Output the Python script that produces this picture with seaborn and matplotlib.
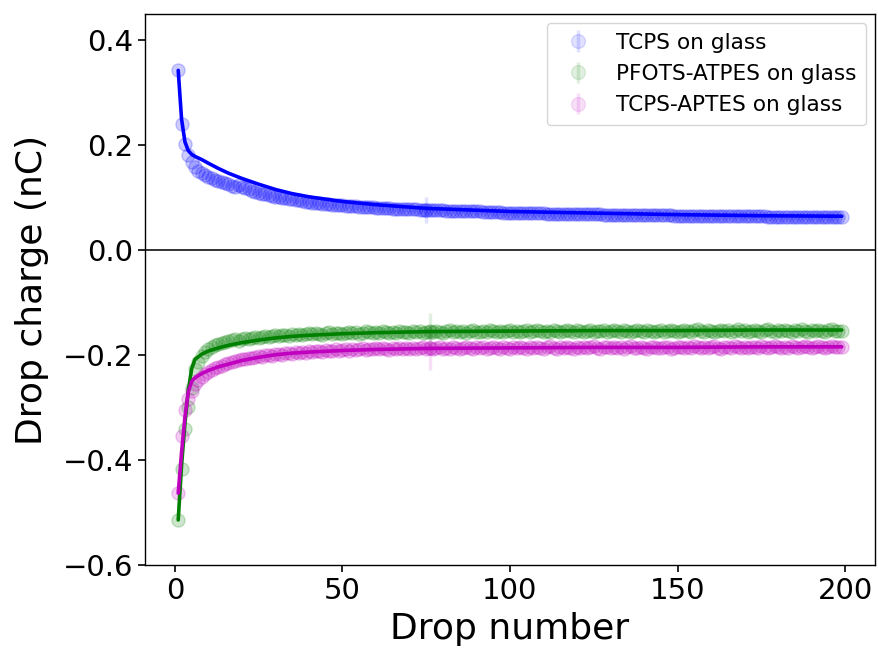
import numpy as np
import pandas as pd
import matplotlib
matplotlib.use("Agg")
import matplotlib.pyplot as plt
import seaborn as sns

drops = list(range(1, 200))

tcps = [
    0.343, 0.240, 0.202, 0.181, 0.168, 0.158, 0.152, 0.147, 0.143, 0.140,
    0.137, 0.134, 0.132, 0.130, 0.128, 0.126, 0.123, 0.121, 0.124, 0.121,
    0.118, 0.116, 0.114, 0.112, 0.110, 0.108, 0.107, 0.105, 0.104, 0.102,
    0.101, 0.100, 0.099, 0.098, 0.097, 0.096, 0.095, 0.094, 0.093, 0.092,
    0.091, 0.091, 0.090, 0.089, 0.089, 0.088, 0.087, 0.087, 0.086, 0.086,
    0.085, 0.085, 0.084, 0.084, 0.083, 0.083, 0.082, 0.082, 0.082, 0.081,
    0.081, 0.080, 0.080, 0.080, 0.079, 0.079, 0.079, 0.079, 0.078, 0.078,
    0.078, 0.078, 0.077, 0.077, 0.077, 0.077, 0.076, 0.076, 0.076, 0.076,
    0.075, 0.075, 0.075, 0.075, 0.075, 0.074, 0.074, 0.074, 0.074, 0.074,
    0.074, 0.073, 0.073, 0.073, 0.073, 0.073, 0.073, 0.072, 0.072, 0.072,
    0.072, 0.072, 0.072, 0.071, 0.071, 0.071, 0.071, 0.071, 0.071, 0.071,
    0.070, 0.070, 0.070, 0.070, 0.070, 0.070, 0.070, 0.070, 0.069, 0.069,
    0.069, 0.069, 0.069, 0.069, 0.069, 0.069, 0.069, 0.068, 0.068, 0.068,
    0.068, 0.068, 0.068, 0.068, 0.068, 0.068, 0.068, 0.067, 0.067, 0.067,
    0.067, 0.067, 0.067, 0.067, 0.067, 0.067, 0.067, 0.067, 0.066, 0.066,
    0.066, 0.066, 0.066, 0.066, 0.066, 0.066, 0.066, 0.066, 0.066, 0.066,
    0.066, 0.065, 0.065, 0.065, 0.065, 0.065, 0.065, 0.065, 0.065, 0.065,
    0.065, 0.065, 0.065, 0.065, 0.065, 0.065, 0.064, 0.064, 0.064, 0.064,
    0.064, 0.064, 0.064, 0.064, 0.064, 0.064, 0.064, 0.064, 0.064, 0.064,
    0.064, 0.063, 0.063, 0.064, 0.063, 0.063, 0.063, 0.063, 0.064,
]

pfots = [
    -0.514, -0.416, -0.340, -0.298, -0.262, -0.226, -0.212, -0.201, -0.194, -0.188,
    -0.184, -0.181, -0.178, -0.176, -0.174, -0.172, -0.171, -0.170, -0.172, -0.169,
    -0.168, -0.170, -0.167, -0.166, -0.168, -0.165, -0.164, -0.166, -0.163, -0.162,
    -0.164, -0.162, -0.161, -0.163, -0.160, -0.161, -0.159, -0.162, -0.160, -0.158,
    -0.160, -0.157, -0.159, -0.161, -0.158, -0.156, -0.159, -0.157, -0.158, -0.160,
    -0.157, -0.155, -0.158, -0.156, -0.159, -0.157, -0.154, -0.156, -0.158, -0.155,
    -0.157, -0.154, -0.156, -0.158, -0.155, -0.157, -0.153, -0.156, -0.155, -0.157,
    -0.154, -0.156, -0.153, -0.157, -0.155, -0.154, -0.156, -0.153, -0.155, -0.157,
    -0.154, -0.152, -0.156, -0.154, -0.155, -0.153, -0.157, -0.154, -0.152, -0.155,
    -0.156, -0.153, -0.155, -0.152, -0.154, -0.156, -0.153, -0.155, -0.154, -0.152,
    -0.155, -0.153, -0.156, -0.154, -0.152, -0.155, -0.153, -0.151, -0.154, -0.156,
    -0.153, -0.155, -0.152, -0.154, -0.156, -0.153, -0.151, -0.154, -0.155, -0.152,
    -0.154, -0.156, -0.153, -0.151, -0.155, -0.153, -0.154, -0.152, -0.156, -0.153,
    -0.151, -0.154, -0.155, -0.152, -0.153, -0.156, -0.154, -0.151, -0.153, -0.155,
    -0.152, -0.154, -0.156, -0.153, -0.151, -0.155, -0.153, -0.152, -0.154, -0.156,
    -0.153, -0.151, -0.154, -0.155, -0.152, -0.150, -0.153, -0.155, -0.152, -0.154,
    -0.156, -0.153, -0.151, -0.154, -0.152, -0.155, -0.153, -0.150, -0.154, -0.152,
    -0.155, -0.153, -0.151, -0.154, -0.156, -0.152, -0.150, -0.153, -0.155, -0.152,
    -0.154, -0.151, -0.153, -0.156, -0.152, -0.154, -0.150, -0.153, -0.155, -0.152,
    -0.154, -0.151, -0.153, -0.155, -0.152, -0.150, -0.154, -0.153, -0.153,
]

tcps_aptes = [
    -0.463, -0.354, -0.305, -0.283, -0.268, -0.255, -0.247, -0.241, -0.236, -0.232,
    -0.228, -0.225, -0.222, -0.220, -0.217, -0.215, -0.213, -0.211, -0.210, -0.208,
    -0.207, -0.205, -0.206, -0.203, -0.202, -0.204, -0.200, -0.199, -0.201, -0.198,
    -0.197, -0.199, -0.196, -0.195, -0.197, -0.194, -0.196, -0.193, -0.195, -0.192,
    -0.194, -0.192, -0.191, -0.193, -0.190, -0.192, -0.191, -0.189, -0.192, -0.190,
    -0.189, -0.191, -0.188, -0.190, -0.189, -0.187, -0.190, -0.188, -0.189, -0.187,
    -0.189, -0.186, -0.188, -0.190, -0.187, -0.189, -0.186, -0.188, -0.187, -0.189,
    -0.186, -0.188, -0.187, -0.185, -0.188, -0.186, -0.189, -0.187, -0.185, -0.188,
    -0.186, -0.188, -0.185, -0.187, -0.189, -0.186, -0.184, -0.187, -0.188, -0.185,
    -0.187, -0.185, -0.188, -0.186, -0.184, -0.187, -0.189, -0.185, -0.186, -0.188,
    -0.185, -0.187, -0.184, -0.186, -0.188, -0.185, -0.187, -0.184, -0.186, -0.188,
    -0.185, -0.183, -0.186, -0.188, -0.185, -0.187, -0.184, -0.186, -0.189, -0.185,
    -0.186, -0.184, -0.187, -0.185, -0.183, -0.186, -0.188, -0.185, -0.184, -0.187,
    -0.185, -0.186, -0.184, -0.188, -0.185, -0.183, -0.186, -0.187, -0.184, -0.186,
    -0.188, -0.185, -0.184, -0.186, -0.187, -0.184, -0.185, -0.188, -0.186, -0.184,
    -0.185, -0.187, -0.184, -0.186, -0.183, -0.185, -0.187, -0.184, -0.186, -0.185,
    -0.183, -0.186, -0.188, -0.185, -0.184, -0.186, -0.183, -0.185, -0.187, -0.184,
    -0.186, -0.184, -0.185, -0.187, -0.183, -0.185, -0.186, -0.184, -0.182, -0.185,
    -0.187, -0.184, -0.186, -0.183, -0.185, -0.186, -0.184, -0.182, -0.185, -0.186,
    -0.184, -0.183, -0.185, -0.186, -0.184, -0.183, -0.185, -0.184, -0.184,
]

fit_x = [1, 2, 3, 4, 5, 6, 8, 10, 13, 16, 20, 25, 30, 35, 40, 50, 60, 75, 100, 125, 150, 175, 199]
tcps_fit = [0.343, 0.250, 0.207, 0.190, 0.183, 0.179, 0.173, 0.166, 0.156, 0.147, 0.137, 0.126,
            0.116, 0.108, 0.102, 0.093, 0.087, 0.080, 0.074, 0.071, 0.068, 0.066, 0.065]
pfots_fit = [-0.514, -0.410, -0.330, -0.268, -0.226, -0.208, -0.198, -0.192, -0.186, -0.181, -0.176,
             -0.171, -0.167, -0.164, -0.162, -0.159, -0.157, -0.155, -0.154, -0.153, -0.153, -0.152, -0.152]
aptes_fit = [-0.463, -0.385, -0.318, -0.270, -0.250, -0.243, -0.235, -0.229, -0.222, -0.217, -0.210,
             -0.204, -0.199, -0.196, -0.194, -0.191, -0.189, -0.187, -0.186, -0.185, -0.185, -0.184, -0.184]

labels = ["TCPS on glass", "PFOTS-ATPES on glass", "TCPS-APTES on glass"]
colors = ["b", "g", "m"]
err_x = [75, 76, 76]
err_y = [0.077, -0.155, -0.186]
err_size = [0.024, 0.035, 0.043]

sns.set_style("ticks")
plt.rcParams["font.family"] = ["DejaVu Sans"]
plt.rcParams["text.color"] = "black"
plt.rcParams["axes.labelcolor"] = "black"
plt.rcParams["xtick.color"] = "black"
plt.rcParams["ytick.color"] = "black"

fig = plt.figure(figsize=(8.79, 6.48), dpi=100)
ax = fig.add_axes([0.165, 0.128, 0.8304, 0.850])

series = [tcps, pfots, tcps_aptes]
fits = [tcps_fit, pfots_fit, aptes_fit]
for vals, fit, lab, col, ex, ey, es in zip(series, fits, labels, colors, err_x, err_y, err_size):
    df = pd.DataFrame({"drop": drops, "charge": vals})
    sns.scatterplot(data=df, x="drop", y="charge", color=col, alpha=0.2, s=90,
                    linewidth=1.0, edgecolor=col, ax=ax, legend=False, zorder=2)
    ax.errorbar([ex], [ey], yerr=[es], fmt="o", color=col, alpha=0.12,
                markersize=10, elinewidth=2.5, label=lab, zorder=1)
    dff = pd.DataFrame({"drop": fit_x, "charge": fit})
    sns.lineplot(data=dff, x="drop", y="charge", color=col, linewidth=2.6, ax=ax,
                 legend=False, zorder=3, estimator=None)

ax.axhline(0, color="#222222", linewidth=1.3, zorder=0)
ax.set_ylim(-0.6, 0.45)
ax.set_xlim(-8.9, 208.9)
ax.set_yticks([-0.6, -0.4, -0.2, 0.0, 0.2, 0.4])
ax.set_xticks([0, 50, 100, 150, 200])
ax.tick_params(labelsize=21, length=5, width=1.2)
for s in ax.spines.values():
    s.set_linewidth(1.0)
    s.set_color("black")
ax.set_xlabel("Drop number", fontsize=26, labelpad=5)
ax.set_ylabel("Drop charge (nC)", fontsize=26, labelpad=10)
ax.legend(loc="upper right", fontsize=15.6, frameon=True, handletextpad=0.75,
          borderpad=0.45, labelspacing=0.52, framealpha=0.8, borderaxespad=0.4)

fig.savefig("out.png", dpi=100)
